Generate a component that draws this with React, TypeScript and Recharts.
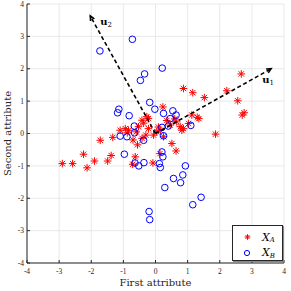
import React from 'react';
import { ScatterChart, Scatter, XAxis, YAxis, CartesianGrid, Legend } from 'recharts';

const xTicks = [-4, -3, -2, -1, 0, 1, 2, 3, 4];
const yTicks = [-4, -3, -2, -1, 0, 1, 2, 3, 4];

const seriesA = [
  { x: -2.9, y: -0.93 }, { x: -2.58, y: -0.93 }, { x: -2.24, y: -0.64 }, { x: -2.13, y: -1.06 },
  { x: -1.9, y: -0.85 }, { x: -1.72, y: -0.21 }, { x: -1.49, y: -0.85 }, { x: -1.38, y: -0.68 },
  { x: -1.33, y: -0.12 }, { x: -1.1, y: 0.1 }, { x: -0.94, y: 0.15 }, { x: -0.84, y: 0.1 },
  { x: -0.88, y: 0.02 }, { x: -0.7, y: -0.2 }, { x: -0.63, y: -0.72 }, { x: -0.71, y: -0.95 },
  { x: -0.56, y: -0.35 }, { x: -0.53, y: 0.21 }, { x: -0.42, y: 0.41 }, { x: -0.27, y: 0.52 },
  { x: -0.22, y: 0.46 }, { x: -0.37, y: 0.32 }, { x: -0.42, y: -0.15 }, { x: -0.22, y: 0.15 },
  { x: -0.06, y: -0.05 }, { x: 0.04, y: 0.05 }, { x: 0.09, y: 0.2 }, { x: 0.15, y: 0.1 },
  { x: 0.14, y: -0.62 }, { x: -0.08, y: -0.91 }, { x: 0.23, y: 0.82 }, { x: 0.25, y: -0.1 },
  { x: 0.51, y: -0.31 }, { x: 0.64, y: -0.54 }, { x: 0.46, y: 0.26 }, { x: 0.66, y: 0.36 },
  { x: 0.77, y: 0.21 }, { x: 0.82, y: 0.1 }, { x: 0.87, y: 0.15 }, { x: 0.87, y: 1.39 },
  { x: 1.03, y: 0.31 }, { x: 1.13, y: 0.57 }, { x: 1.16, y: 1.26 }, { x: 1.35, y: 0.46 },
  { x: 1.3, y: 0.5 }, { x: 1.52, y: 1.11 }, { x: 1.87, y: -0.02 }, { x: 2.22, y: 1.32 },
  { x: 2.56, y: 1.01 }, { x: 2.67, y: 1.84 }, { x: 2.7, y: 0.57 }, { x: 2.76, y: 0.64 },
  { x: -0.3, y: -0.05 }, { x: 0.35, y: 0.4 }, { x: -0.6, y: 0.05 }, { x: 0.6, y: 0.45 },
];

const seriesB = [
  { x: -1.73, y: 2.55 }, { x: -0.72, y: 2.91 }, { x: 0.21, y: 2.02 }, { x: -0.34, y: 1.84 },
  { x: -0.47, y: 1.64 }, { x: -0.18, y: 0.96 }, { x: -0.02, y: 0.75 }, { x: -1.14, y: 0.75 },
  { x: -1.18, y: 0.64 }, { x: -0.82, y: 0.55 }, { x: -0.66, y: 0.23 }, { x: -0.65, y: 0.02 },
  { x: -1.1, y: -0.08 }, { x: -0.89, y: -0.1 }, { x: -0.37, y: -0.21 }, { x: -0.97, y: -0.64 },
  { x: -0.64, y: -0.91 }, { x: -0.52, y: -1.0 }, { x: -0.36, y: -0.9 }, { x: 0.25, y: 0.62 },
  { x: 0.54, y: 0.7 }, { x: 0.64, y: 0.57 }, { x: 0.46, y: 0.46 }, { x: 0.4, y: 0.23 },
  { x: 0.2, y: 0.19 }, { x: 0.25, y: -0.07 }, { x: 1.1, y: 0.25 }, { x: 0.2, y: -0.57 },
  { x: 0.23, y: -0.72 }, { x: 0.12, y: -0.93 }, { x: 0.15, y: -1.05 }, { x: 0.93, y: -1.0 },
  { x: 0.85, y: -1.28 }, { x: 0.78, y: -1.52 }, { x: 0.56, y: -1.39 }, { x: 0.29, y: -1.67 },
  { x: 1.42, y: -1.97 }, { x: 1.16, y: -2.2 }, { x: -0.2, y: -2.41 }, { x: -0.18, y: -2.66 },
];

const arrowU1 = [{ x: 0, y: 0 }, { x: 3.6, y: 2.0 }];
const arrowU2 = [{ x: 0, y: 0 }, { x: -2.03, y: 3.63 }];

const RED = '#ff0000';
const BLUE = '#0000ff';
const AXIS = '#262626';
const TICK_FONT = '"Liberation Serif", serif';
const LABEL_FONT = '"DejaVu Serif", serif';

function Star({ cx, cy, r = 3.8, color = RED }: any) {
  const d = r * Math.SQRT1_2;
  return (
    <g stroke={color} strokeWidth={1} fill="none">
      <line x1={cx - r} y1={cy} x2={cx + r} y2={cy} />
      <line x1={cx} y1={cy - r} x2={cx} y2={cy + r} />
      <line x1={cx - d} y1={cy - d} x2={cx + d} y2={cy + d} />
      <line x1={cx - d} y1={cy + d} x2={cx + d} y2={cy - d} />
    </g>
  );
}

function Ring({ cx, cy, r = 3.3, color = BLUE }: any) {
  return <circle cx={cx} cy={cy} r={r} stroke={color} strokeWidth={1} fill="none" />;
}

function makeArrowHead(sub: string, lx: number, ly: number) {
  return (props: any) => {
    const { cx, cy, payload } = props;
    if (!payload || (payload.x === 0 && payload.y === 0)) return <g />;
    const theta = Math.atan2(-payload.y, payload.x);
    const len = 5;
    const spread = 0.45;
    const a1 = theta + Math.PI - spread;
    const a2 = theta + Math.PI + spread;
    return (
      <g>
        <polyline
          points={`${cx + len * Math.cos(a1)},${cy + len * Math.sin(a1)} ${cx},${cy} ${cx + len * Math.cos(a2)},${cy + len * Math.sin(a2)}`}
          stroke="#000"
          strokeWidth={1.6}
          fill="none"
        />
        <text x={cx + lx} y={cy + ly} fontFamily={LABEL_FONT} fontSize={10} fontWeight="bold" fill="#000">
          u
          <tspan fontSize={7} fontWeight="normal" dy={2}>{sub}</tspan>
        </text>
      </g>
    );
  };
}

const XLabel = (props: any) => {
  const vb = props.viewBox || { x: 27, y: 263, width: 257, height: 28 };
  return (
    <text x={vb.x + vb.width / 2} y={286} textAnchor="middle" fontFamily={LABEL_FONT} fontSize={10} fill={AXIS}>
      First attribute
    </text>
  );
};

const YLabel = (props: any) => {
  const vb = props.viewBox || { x: 0, y: 4, width: 27, height: 259 };
  const cy = vb.y + vb.height / 2;
  return (
    <text x={10.5} y={cy} transform={`rotate(-90, 10.5, ${cy})`} textAnchor="middle" fontFamily={LABEL_FONT} fontSize={10} fill={AXIS}>
      Second attribute
    </text>
  );
};

const LegendBox = () => (
  <div style={{ width: 51, height: 36, background: '#fff', border: `1px solid ${AXIS}`, boxSizing: 'border-box', boxShadow: '1px 1px 0 #888' }}>
    <svg width={49} height={34} style={{ display: 'block', overflow: 'visible' }}>
      <Star cx={14.5} cy={11} r={2.8} />
      <text x={29} y={14.5} fontFamily={LABEL_FONT} fontSize={11} fontStyle="italic" fill="#000">
        X<tspan fontSize={7} dy={1.5}>A</tspan>
      </text>
      <Ring cx={14} cy={27} r={2.6} />
      <text x={29} y={30} fontFamily={LABEL_FONT} fontSize={11} fontStyle="italic" fill="#000">
        X<tspan fontSize={7} dy={1.5}>B</tspan>
      </text>
    </svg>
  </div>
);

export default function App() {
  const tickStyle = { fontFamily: TICK_FONT, fontSize: 7.5, fill: AXIS };
  return (
    <div style={{ position: 'absolute', left: 0, top: 0, width: 291, height: 291, background: '#fff' }}>
      <ScatterChart width={291} height={291} margin={{ top: 4, right: 7, bottom: 0, left: 0 }}>
        <CartesianGrid stroke="#e3e3e3" strokeWidth={0.8} />
        <XAxis
          type="number"
          dataKey="x"
          domain={[-4, 4]}
          ticks={xTicks}
          interval={0}
          allowDataOverflow
          height={28}
          stroke={AXIS}
          tickSize={-3}
          tickMargin={9}
          tick={tickStyle}
          label={XLabel}
        />
        <XAxis xAxisId="top" orientation="top" type="number" dataKey="x" domain={[-4, 4]} ticks={xTicks} interval={0} height={0} stroke={AXIS} tickSize={-3} tick={false} allowDataOverflow />
        <YAxis
          type="number"
          dataKey="y"
          domain={[-4, 4]}
          ticks={yTicks}
          interval={0}
          allowDataOverflow
          width={27}
          stroke={AXIS}
          tickSize={-3}
          tickMargin={6}
          tick={tickStyle}
          label={YLabel}
        />
        <YAxis yAxisId="right" orientation="right" type="number" dataKey="y" domain={[-4, 4]} ticks={yTicks} interval={0} width={0} stroke={AXIS} tickSize={-3} tick={false} allowDataOverflow />
        <Scatter name="XA" data={seriesA} isAnimationActive={false} shape={(p: any) => <Star cx={p.cx} cy={p.cy} />} />
        <Scatter name="XB" data={seriesB} isAnimationActive={false} shape={(p: any) => <Ring cx={p.cx} cy={p.cy} />} />
        <Scatter
          name="u1"
          data={arrowU1}
          isAnimationActive={false}
          line={{ stroke: '#000', strokeWidth: 1.6, strokeDasharray: '4 2.7' }}
          shape={makeArrowHead('1', -9, 14)}
        />
        <Scatter
          name="u2"
          data={arrowU2}
          isAnimationActive={false}
          line={{ stroke: '#000', strokeWidth: 1.6, strokeDasharray: '4 2.7' }}
          shape={makeArrowHead('2', 10, 9)}
        />
        <Legend
          layout="vertical"
          align="center"
          verticalAlign="middle"
          content={() => <LegendBox />}
          wrapperStyle={{ left: 232, top: 225, width: 51, height: 36 }}
        />
      </ScatterChart>
    </div>
  );
}
